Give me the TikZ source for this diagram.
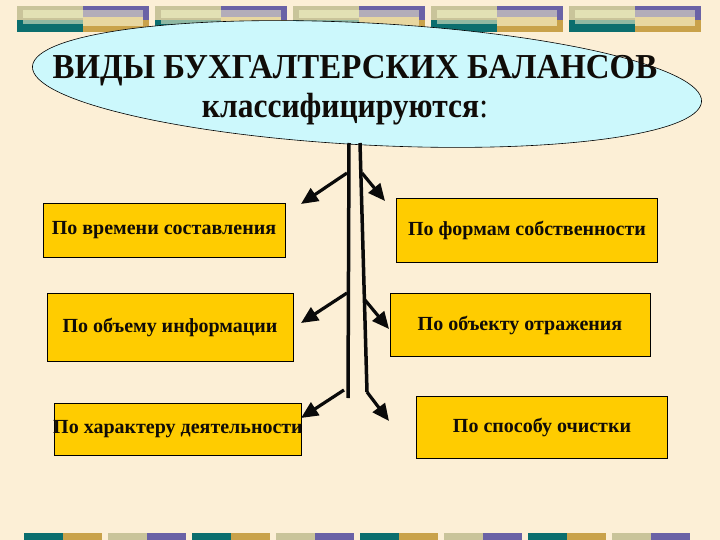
\documentclass[tikz,border=0pt]{standalone}
\usepackage{fontspec}
\usepackage{graphicx}
\setmainfont{Liberation Serif}
\usetikzlibrary{shapes.geometric,arrows.meta}
\definecolor{fon}{HTML}{FCEFD6}
\definecolor{oval}{HTML}{CCF8FC}
\definecolor{zolot}{HTML}{FFCC00}
\definecolor{tekst}{HTML}{100C08}
\definecolor{strelka}{HTML}{0A0A0A}
\definecolor{haki}{HTML}{C9C49A}
\definecolor{hakisvet}{HTML}{E2E1B4}
\definecolor{birjuza}{HTML}{0B6E6E}
\definecolor{birjuzasvet}{HTML}{8FB8A2}
\definecolor{siren}{HTML}{6A62A6}
\definecolor{lila}{HTML}{B3ADB9}
\definecolor{krem}{HTML}{E8D7A0}
\definecolor{ohra}{HTML}{C9A24A}
\begin{document}
\begin{tikzpicture}[x=1pt,y=-1pt,
	vid/.style={ellipse,draw=black,line width=0.6pt,fill=oval,minimum width=670pt,minimum height=122pt,inner sep=0pt},
	zag/.style={font=\bfseries\fontsize{35}{40}\selectfont,text=tekst,inner sep=0pt},
	vbox/.style={draw=black,line width=0.7pt,fill=zolot,font=\bfseries\fontsize{20}{24}\selectfont,text=tekst,inner sep=0pt},
	stvol/.style={line width=3.5pt,draw=strelka},
	strel/.style={line width=3.2pt,draw=strelka,-{Triangle[length=17pt,width=15pt]}}]
	\fill[fon](0,0)rectangle(720,540);
	\useasboundingbox(0,0)rectangle(720,540);
	\foreach \x in {17,155,293,431,569}{
		\fill[haki](\x,6)rectangle(\x+66,20);
		\fill[hakisvet](\x+6,10)rectangle(\x+66,18);
		\fill[birjuza](\x,20)rectangle(\x+66,32);
		\fill[birjuzasvet](\x+6,20)rectangle(\x+66,24);
		\fill[siren](\x+66,6)rectangle(\x+132,20);
		\fill[lila](\x+66,10)rectangle(\x+126,17);
		\fill[ohra](\x+66,20)rectangle(\x+132,32);
		\fill[krem](\x+66,17)rectangle(\x+126,26);
	}
	\foreach \x in {24,192,360,528}{
		\fill[birjuza](\x,533)rectangle(\x+39,540);
		\fill[ohra](\x+39,533)rectangle(\x+78,540);
		\fill[haki](\x+84,533)rectangle(\x+123,540);
		\fill[siren](\x+123,533)rectangle(\x+162,540);
	}
	\node[vid,rotate=-3](vidy)at(367,84){};
	\node[zag](z1)at(355,71){\scalebox{0.94}[1]{ВИДЫ БУХГАЛТЕРСКИХ БАЛАНСОВ}};
	\node[zag](z2)at(345,109){\scalebox{0.9}[1]{классифицируются\textmd{:}}};
	\node[vbox,minimum width=242pt,minimum height=54pt](b1)at(164,230){По времени составления};
	\node[vbox,minimum width=261pt,minimum height=64pt](b2)at(527,230){По формам собственности};
	\node[vbox,minimum width=246pt,minimum height=68pt](b3)at(170,327){По объему информации};
	\node[vbox,minimum width=260pt,minimum height=63pt](b4)at(520,325){По объекту отражения};
	\node[vbox,minimum width=247pt,minimum height=52pt](b5)at(178,429){\makebox[0pt]{По характеру деятельности}};
	\node[vbox,minimum width=251pt,minimum height=62pt](b6)at(542,427){По способу очистки};
	\coordinate(tl0)at(349,143);
	\coordinate(tl1)at(348,398);
	\coordinate(tr0)at(360,143);
	\coordinate(tr1)at(367,392);
	\draw[stvol](tl0)--(tl1);
	\draw[stvol](tr0)--(tr1);
	\coordinate(l1)at(347,173);\coordinate(l2)at(347,293);\coordinate(l3)at(344,390);
	\coordinate(r1)at(362,173);\coordinate(r2)at(365,300);\coordinate(r3)at(367,392);
	\coordinate(c1)at(301,204);\coordinate(c2)at(301,323);\coordinate(c3)at(301,418);
	\coordinate(d1)at(385,201);\coordinate(d2)at(389,329);\coordinate(d3)at(389,421);
	\draw[strel](l1)--(c1);
	\draw[strel](l2)--(c2);
	\draw[strel](l3)--(c3);
	\draw[strel](r1)--(d1);
	\draw[strel](r2)--(d2);
	\draw[strel](r3)--(d3);
\end{tikzpicture}
\end{document}
